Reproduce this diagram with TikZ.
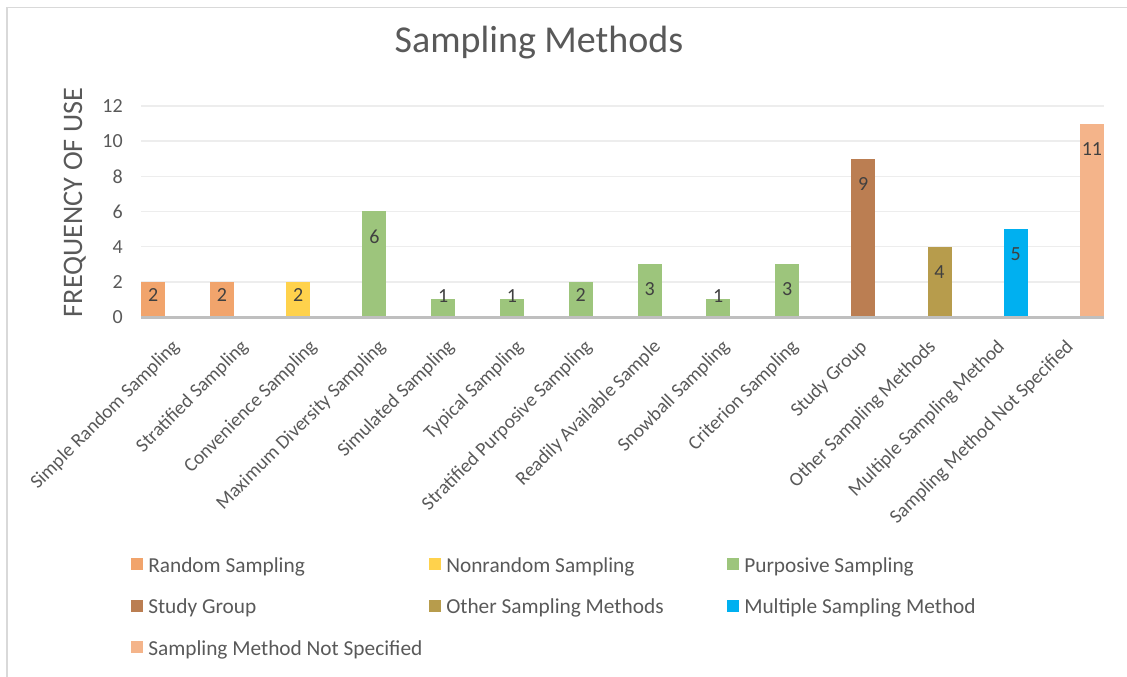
\documentclass[tikz,border=0pt]{standalone}
\usepackage{fontspec}
\setmainfont{Carlito}
\usepackage{xcolor}
\usepackage{tikz}

\definecolor{txtgray}{RGB}{89,89,89}
\definecolor{valgray}{RGB}{64,64,64}
\definecolor{gridgray}{RGB}{237,237,237}
\definecolor{axisgray}{RGB}{191,191,191}
\definecolor{framegray}{RGB}{217,217,217}
\definecolor{randc}{RGB}{241,164,108}
\definecolor{nonrandc}{RGB}{255,210,76}
\definecolor{purpc}{RGB}{157,197,124}
\definecolor{groupc}{RGB}{187,126,82}
\definecolor{otherc}{RGB}{183,156,76}
\definecolor{multc}{RGB}{0,176,240}
\definecolor{nospecc}{RGB}{244,180,138}

\begin{document}
\begin{tikzpicture}[
    x=0.75pt, y=-0.75pt,
    font=\fontsize{15}{18}\selectfont,
    frame/.style={draw=framegray, line width=1.1pt},
    grid/.style={draw=gridgray, line width=1.1pt},
    axisline/.style={draw=axisgray, line width=2.3pt},
    tick/.style={anchor=east, text=txtgray, inner sep=0pt},
    val/.style={text=valgray, inner sep=0pt},
    cat/.style={anchor=east, rotate=45, text=txtgray, inner sep=0pt, font=\fontsize{14.6}{17}\selectfont},
    key/.style={anchor=north west, minimum size=9pt, inner sep=0pt},
    keytext/.style={anchor=base west, text=txtgray, inner sep=0pt, font=\fontsize{16}{19}\selectfont}
]
\useasboundingbox (0,0) rectangle (1127,677);
\draw[frame] (7,677) -- (7,7.5) -- (1127,7.5);

\node[text=txtgray, anchor=base, font=\fontsize{28.5}{33}\selectfont] (title) at (539,53) {Sampling Methods};
\node[text=txtgray, anchor=base, rotate=90, font=\fontsize{21.2}{25}\selectfont] (ytitle) at (82,202.5) {FREQUENCY OF USE};

% gridlines and y ticks
\draw[grid] (141,281.8) -- (1104,281.8);
\draw[grid] (141,246.7) -- (1104,246.7);
\draw[grid] (141,211.5) -- (1104,211.5);
\draw[grid] (141,176.4) -- (1104,176.4);
\draw[grid] (141,141.2) -- (1104,141.2);
\draw[grid] (141,106.0) -- (1104,106.0);
\node[tick] (y0) at (123,317.0) {0};
\node[tick] (y2) at (123,281.8) {2};
\node[tick] (y4) at (123,246.7) {4};
\node[tick] (y6) at (123,211.5) {6};
\node[tick] (y8) at (123,176.4) {8};
\node[tick] (y10) at (123,141.2) {10};
\node[tick] (y12) at (123,106.0) {12};

% bars
\fill[randc] (141.2,317) rectangle (165.2,281.8);
\fill[randc] (210.0,317) rectangle (234.0,281.8);
\fill[nonrandc] (286.2,317) rectangle (310.2,281.8);
\fill[purpc] (362.4,317) rectangle (386.4,211.5);
\fill[purpc] (431.2,317) rectangle (455.2,299.4);
\fill[purpc] (500.0,317) rectangle (524.0,299.4);
\fill[purpc] (568.8,317) rectangle (592.8,281.8);
\fill[purpc] (637.6,317) rectangle (661.6,264.3);
\fill[purpc] (706.3,317) rectangle (730.3,299.4);
\fill[purpc] (775.1,317) rectangle (799.1,264.3);
\fill[groupc] (851.3,317) rectangle (875.3,158.8);
\fill[otherc] (927.5,317) rectangle (951.5,246.7);
\fill[multc] (1003.7,317) rectangle (1027.7,229.1);
\fill[nospecc] (1079.9,317) rectangle (1103.9,123.6);
\draw[axisline] (141,317.5) -- (1104,317.5);

% values
\node[val] (v1) at (153.2,295) {2};
\node[val] (v2) at (222.0,295) {2};
\node[val] (v3) at (298.2,295) {2};
\node[val] (v4) at (374.4,236.5) {6};
\node[val] (v5) at (443.2,296) {1};
\node[val] (v6) at (512.0,296) {1};
\node[val] (v7) at (580.8,295) {2};
\node[val] (v8) at (649.6,289.3) {3};
\node[val] (v9) at (718.3,296) {1};
\node[val] (v10) at (787.1,289.3) {3};
\node[val] (v11) at (863.3,183.8) {9};
\node[val] (v12) at (939.5,271.7) {4};
\node[val] (v13) at (1015.7,254.1) {5};
\node[val] (v14) at (1091.9,148.6) {11};

% category labels
\node[cat] (c1) at (176.4,344) {Simple Random Sampling};
\node[cat] (c2) at (245.2,344) {Stratified Sampling};
\node[cat] (c3) at (314.0,344) {Convenience Sampling};
\node[cat] (c4) at (382.8,344) {Maximum Diversity Sampling};
\node[cat] (c5) at (451.6,344) {Simulated Sampling};
\node[cat] (c6) at (520.4,344) {Typical Sampling};
\node[cat] (c7) at (589.2,344) {Stratified Purposive Sampling};
\node[cat] (c8) at (658.0,344) {Readily Available Sample};
\node[cat] (c9) at (726.7,344) {Snowball Sampling};
\node[cat] (c10) at (795.5,344) {Criterion Sampling};
\node[cat] (c11) at (864.3,344) {Study Group};
\node[cat] (c12) at (933.1,344) {Other Sampling Methods};
\node[cat] (c13) at (1001.9,344) {Multiple Sampling Method};
\node[cat] (c14) at (1070.7,344) {Sampling Method Not Specified};

% legend
\node[key, fill=randc] (k1) at (131,558) {};
\node[keytext] (t1) at (148,572) {Random Sampling};
\node[key, fill=nonrandc] (k2) at (429,558) {};
\node[keytext] (t2) at (446,572) {Nonrandom Sampling};
\node[key, fill=purpc] (k3) at (727,558) {};
\node[keytext] (t3) at (744,572) {Purposive Sampling};
\node[key, fill=groupc] (k4) at (131,600) {};
\node[keytext] (t4) at (148,613.5) {Study Group};
\node[key, fill=otherc] (k5) at (429,600) {};
\node[keytext] (t5) at (446,613.5) {Other Sampling Methods};
\node[key, fill=multc] (k6) at (727,600) {};
\node[keytext] (t6) at (744,613.5) {Multiple Sampling Method};
\node[key, fill=nospecc] (k7) at (131,641) {};
\node[keytext] (t7) at (148,655) {Sampling Method Not Specified};
\end{tikzpicture}
\end{document}
